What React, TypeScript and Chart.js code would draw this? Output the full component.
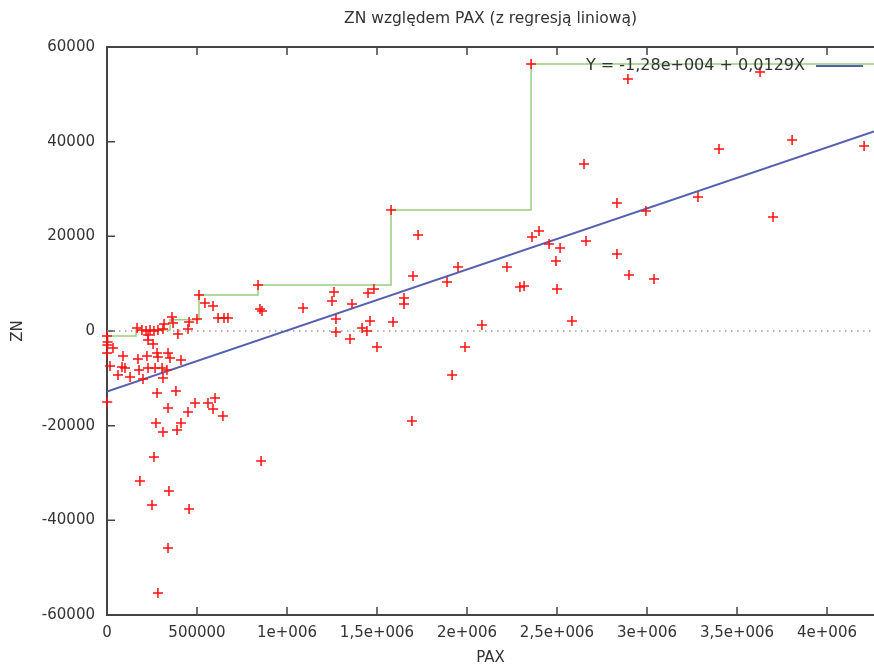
import React, { useEffect, useRef } from "react";
import { Chart, registerables } from "chart.js";

Chart.register(...registerables);

// ---- data ----
const pax = [
  0, 3000, 2000, 33300, 1000, 88900, 172000, 222000, 278000, 283000, 339000, 350000, 411000,
  16700, 83300, 100000, 178000, 228000, 267000, 306000, 333000, 61100, 128000, 200000, 311000,
  228000, 228000, 256000, 394000, 450000, 167000, 194000, 217000, 239000, 261000, 283000, 311000,
  317000, 361000, 367000, 456000, 500000, 511000, 544000, 589000, 617000, 650000, 672000, 861000,
  850000, 839000, 1000, 278000, 383000, 339000, 489000, 561000, 600000, 589000, 450000, 644000,
  272000, 411000, 311000, 389000, 261000, 856000, 183000, 344000, 250000, 456000, 339000, 283000,
  1089000, 1261000, 1250000, 1361000, 1272000, 1272000, 1350000, 1417000, 1444000, 1461000,
  1450000, 1483000, 1500000, 1578000, 1589000, 1650000, 1650000, 1700000, 1728000, 1694000,
  1889000, 1950000, 1917000, 1989000, 2083000, 2222000, 2294000, 2317000, 2361000, 2400000,
  2456000, 2494000, 2517000, 2500000, 2583000, 2356000, 2650000, 2661000, 2833000, 2833000,
  2900000, 2894000, 2994000, 3039000, 3283000, 3400000, 3628000, 3700000, 3806000, 4206000,
];
const zn = [
  -1060, -2320, -2960, -3590, -4650, -5280, -5920, -5280, -4650, -5490, -4650, -5700, -6130,
  -7400, -7610, -7820, -8240, -7820, -7820, -7820, -8240, -9300, -9720, -10140, -9930,
  -850, -1900, -2750, -630, 420, 630, 210, 0, 210, 0, 210, 420,
  1480, 2960, 1690, 1900, 2540, 7600, 5920, 5280, 2750, 2750, 2750, 4230,
  4650, 9720, -15000, -13100, -12700, -16270, -15200, -15200, -14160, -16480, -17110, -17960,
  -19440, -19440, -21340, -20920, -26620, -27470, -31690, -33800, -36760, -37610, -45850, -55360,
  4860, 8240, 6340, 5700, 2540, -210, -1690, 630, 0, 2110,
  8030, 8870, -3380, 25560, 1900, 6970, 5700, 11620, 20280, -19020,
  10350, 13520, -9300, -3380, 1270, 13520, 9300, 9510, 19860, 21130,
  18380, 14790, 17540, 8870, 2110, 56410, 35280, 19020, 27040, 16270,
  11830, 53240, 25350, 10990, 28310, 38450, 54720, 24090, 40350, 39090,
];
const stepPax = [0, 161000, 350000, 511000, 839000, 1578000, 2356000, 4261000];
const stepZn = [-1060, 200, 2400, 7600, 9720, 25560, 56410, 56410];
const regIntercept = -12800;
const regSlope = 0.0129;
const xMin = 0;
const xMax = 4261000;
const yMin = -60000;
const yMax = 60000;
const xTickValues = [0, 500000, 1000000, 1500000, 2000000, 2500000, 3000000, 3500000, 4000000];
const xTickLabels = ["0", "500000", "1e+006", "1,5e+006", "2e+006", "2,5e+006", "3e+006", "3,5e+006", "4e+006"];
const yTickValues = [-60000, -40000, -20000, 0, 20000, 40000, 60000];
const yTickLabels = ["-60000", "-40000", "-20000", "0", "20000", "40000", "60000"];
const titleText = "ZN względem PAX (z regresją liniową)";
const xTitle = "PAX";
const yTitle = "ZN";
const legendText = "Y = -1,28e+004 + 0,0129X";

const FONT = "DejaVu Sans";
const TEXT = "#333333";
const AXIS = "#444444";

const framePlugin = {
  id: "gnuFrame",
  beforeDatasetsDraw(chart: any) {
    const { ctx, chartArea, scales } = chart;
    const { left, right, top, bottom } = chartArea;
    ctx.save();
    ctx.strokeStyle = AXIS;
    ctx.lineWidth = 2;
    ctx.beginPath();
    ctx.moveTo(right + 2, top);
    ctx.lineTo(left, top);
    ctx.lineTo(left, bottom);
    ctx.lineTo(right + 2, bottom);
    ctx.stroke();
    ctx.lineWidth = 1.5;
    ctx.beginPath();
    scales.x.ticks.forEach((t: any) => {
      const px = scales.x.getPixelForValue(t.value);
      ctx.moveTo(px, bottom);
      ctx.lineTo(px, bottom - 8);
      ctx.moveTo(px, top);
      ctx.lineTo(px, top + 8);
    });
    scales.y.ticks.forEach((t: any) => {
      const py = scales.y.getPixelForValue(t.value);
      ctx.moveTo(left, py);
      ctx.lineTo(left + 8, py);
    });
    ctx.stroke();
    ctx.restore();
  },
  afterDatasetsDraw(chart: any) {
    const { ctx, chartArea, scales } = chart;
    ctx.save();
    // legend
    const ly = scales.y.getPixelForValue(56000);
    ctx.font = `16px "${FONT}"`;
    ctx.fillStyle = TEXT;
    ctx.textAlign = "right";
    ctx.textBaseline = "middle";
    ctx.fillText(legendText, 805, ly);
    ctx.strokeStyle = "#5560b0";
    ctx.lineWidth = 2;
    ctx.beginPath();
    ctx.moveTo(816, ly);
    ctx.lineTo(863, ly);
    ctx.stroke();
    // title
    ctx.font = `15.5px "${FONT}"`;
    ctx.textAlign = "center";
    ctx.fillText(titleText, (chartArea.left + chartArea.right) / 2, 19);
    ctx.restore();
  },
};

export default function App() {
  const ref = useRef<HTMLCanvasElement | null>(null);
  useEffect(() => {
    if (!ref.current) return;
    const font = { family: FONT, size: 15 };
    const chart = new Chart(ref.current, {
      type: "scatter",
      data: {
        datasets: [
          {
            label: "points",
            data: pax.map((x, i) => ({ x, y: zn[i] })),
            pointStyle: "cross",
            pointRadius: 5,
            borderColor: "#ff1010",
            backgroundColor: "#ff1010",
            borderWidth: 1.5,
            clip: 8,
            showLine: false,
          } as any,
          {
            label: "reg",
            data: [xMin, xMax].map((x) => ({ x, y: regIntercept + regSlope * x })),
            showLine: true,
            borderColor: "#5560b0",
            borderWidth: 2,
            pointRadius: 0,
          },
          {
            label: "max",
            data: stepPax.map((x, i) => ({ x, y: stepZn[i] })),
            showLine: true,
            stepped: "before",
            borderColor: "#96cf7e",
            borderWidth: 1.5,
            pointRadius: 0,
          } as any,
          {
            label: "zero",
            data: [xMin, xMax].map((x) => ({ x, y: 0 })),
            showLine: true,
            borderColor: "#9a9a9a",
            borderWidth: 1.5,
            borderDash: [1.5, 4.5],
            pointRadius: 0,
          },
        ],
      },
      options: {
        animation: false,
        responsive: false,
        events: [],
        layout: { autoPadding: false, padding: { top: 47, right: 0, left: 0, bottom: 0 } },
        plugins: {
          legend: { display: false },
          title: { display: false },
          tooltip: { enabled: false },
        },
        scales: {
          x: {
            type: "linear",
            min: xMin,
            max: xMax,
            afterBuildTicks: (s: any) => {
              s.ticks = xTickValues.map((v) => ({ value: v }));
            },
            afterFit: (s: any) => {
              s.height = 54;
              s.paddingLeft = 0;
              s.paddingRight = 0;
            },
            ticks: {
              callback: (_v: any, i: number) => xTickLabels[i],
              font,
              color: TEXT,
              padding: 9,
              maxRotation: 0,
              autoSkip: false,
            },
            grid: { display: false, drawTicks: false },
            border: { display: false },
            title: { display: true, text: xTitle, font, color: TEXT, padding: { top: 0, bottom: 2 } },
          },
          y: {
            type: "linear",
            min: yMin,
            max: yMax,
            afterBuildTicks: (s: any) => {
              s.ticks = yTickValues.map((v) => ({ value: v }));
            },
            afterFit: (s: any) => {
              s.width = 107;
              s.paddingTop = 0;
              s.paddingBottom = 0;
            },
            ticks: {
              callback: (_v: any, i: number) => yTickLabels[i],
              font,
              color: TEXT,
              padding: 12,
              autoSkip: false,
            },
            grid: { display: false, drawTicks: false },
            border: { display: false },
            title: { display: true, text: yTitle, font, color: TEXT, padding: { top: 9, bottom: 0 } },
          },
        },
      } as any,
      plugins: [framePlugin],
    });
    return () => chart.destroy();
  }, []);
  return (
    <div style={{ position: "absolute", left: 0, top: 0, width: 874, height: 669, background: "#fff" }}>
      <canvas ref={ref} width={874} height={669} style={{ display: "block" }} />
    </div>
  );
}
